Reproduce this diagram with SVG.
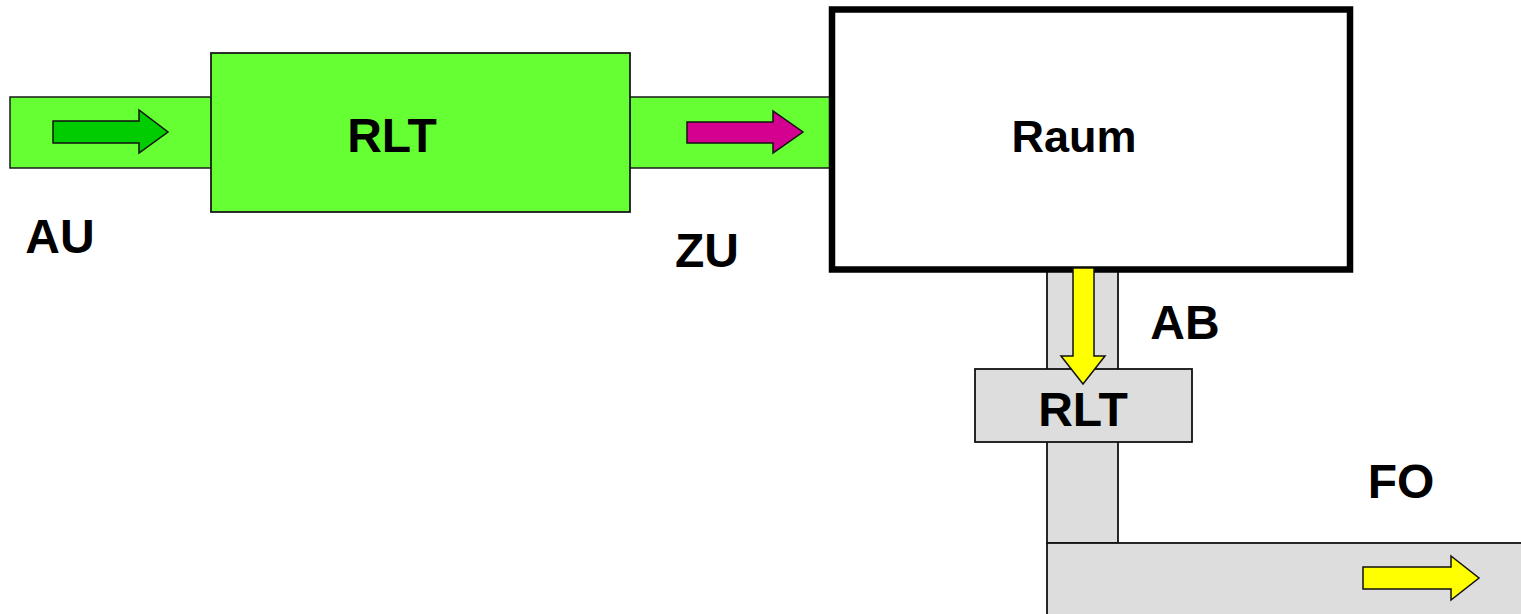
<svg xmlns="http://www.w3.org/2000/svg" width="1521" height="614" viewBox="0 0 1521 614">
<style>
.duct-g{fill:#66FF33;stroke:#1a1a1a;stroke-width:1.5}
.duct-x{fill:#DDDDDD;stroke:#111;stroke-width:1.8}
.arrow{stroke:#111;stroke-width:1.5;stroke-linejoin:miter}
.lbl{font-family:"Liberation Sans",Arial,sans-serif;font-weight:bold;font-size:48px;fill:#000;text-anchor:middle}
</style>
<rect width="1521" height="614" fill="#fff"/>
<g id="ducts">
  <rect id="duct-au" class="duct-g" x="10" y="97" width="202" height="71"/>
  <rect id="duct-zu" class="duct-g" x="630" y="97" width="202" height="71"/>
  <rect id="duct-ab" class="duct-x" x="1047" y="266" width="71" height="277"/>
  <rect id="duct-fo" class="duct-x" x="1047" y="543" width="480" height="80"/>
</g>
<g id="rlt-zu">
  <rect x="211" y="53" width="419" height="159" fill="#66FF33" stroke="#1a1a1a" stroke-width="1.8"/>
  <text class="lbl" x="392" y="152">RLT</text>
</g>
<g id="raum">
  <rect x="832" y="9.5" width="518" height="260" fill="#fff" stroke="#000" stroke-width="6.5"/>
  <text class="lbl" x="1074" y="152" style="font-size:45px">Raum</text>
</g>
<g id="rlt-ab">
  <rect x="975" y="369" width="217" height="73" fill="#DDDDDD" stroke="#111" stroke-width="1.8"/>
  <text class="lbl" x="1083" y="426">RLT</text>
</g>
<g id="connectors">
  <polygon class="arrow" fill="#00CC00" points="53,121 139,121 139,110 168,132 139,153 139,143 53,143"/>
  <polygon class="arrow" fill="#D4008F" points="687,122 773,122 773,111 803,132 773,153 773,143 687,143"/>
  <polygon class="arrow" fill="#FFFF00" points="1073,268 1094,268 1094,356 1105,356 1083,384 1061,356 1073,356"/>
  <polygon class="arrow" fill="#FFFF00" points="1363,567 1451,567 1451,556 1479,578 1451,600 1451,589 1363,589"/>
</g>
<g id="labels">
  <text class="lbl" x="60" y="253">AU</text>
  <text class="lbl" x="707" y="267">ZU</text>
  <text class="lbl" x="1185" y="339">AB</text>
  <text class="lbl" x="1401" y="498">FO</text>
</g>
</svg>
